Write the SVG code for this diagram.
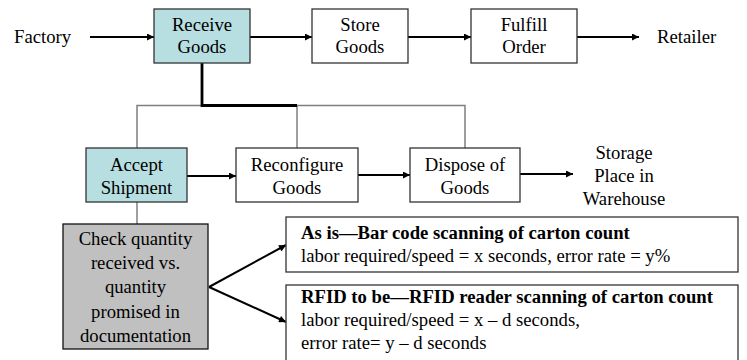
<svg xmlns="http://www.w3.org/2000/svg" width="747" height="360" viewBox="0 0 747 360">
<defs>
<marker id="ah" viewBox="0 0 10 10" refX="10" refY="5" markerWidth="9" markerHeight="7" markerUnits="userSpaceOnUse" orient="auto"><path d="M0,0 L10,5 L0,10 z" fill="#000"/></marker>
<style>
text{font-family:"Liberation Serif","Times New Roman",serif;font-size:18.7px;fill:#000}
.c{text-anchor:middle}
.b{font-weight:bold}
.box{fill:#fff;stroke:#333;stroke-width:1.3}
.teal{fill:#b7dee1;stroke:#333;stroke-width:1.3}
.grey{fill:#c0c0c0;stroke:#111;stroke-width:1.3}
.arr{stroke:#000;stroke-width:2;fill:none;marker-end:url(#ah)}
.thin{stroke:#7f7f7f;stroke-width:1.5;fill:none}
.thick{stroke:#000;stroke-width:2.8;fill:none}
</style>
</defs>
<g id="connectors">
<line class="arr" x1="90" y1="37" x2="154" y2="37"/>
<line class="arr" x1="250" y1="37" x2="312" y2="37"/>
<line class="arr" x1="408" y1="37" x2="471" y2="37"/>
<line class="arr" x1="577" y1="37" x2="639" y2="37"/>
<polyline class="thin" points="137,148 137,105.5 465,105.5 465,148"/>
<line class="thin" x1="297" y1="105.5" x2="297" y2="148"/>
<polyline class="thick" points="202,63 202,105.5 297,105.5"/>
<line class="arr" x1="187" y1="176" x2="236" y2="176"/>
<line class="arr" x1="358" y1="175" x2="410" y2="175"/>
<line class="arr" x1="520" y1="174" x2="573" y2="174"/>
<line class="thin" x1="137" y1="202" x2="137" y2="224"/>
<line class="arr" x1="209" y1="287" x2="286" y2="245"/>
<line class="arr" x1="209" y1="287" x2="286" y2="322"/>
</g>
<g id="factory"><text x="14" y="43">Factory</text></g>
<g id="receive-goods">
<rect class="teal" x="154" y="9" width="96" height="54"/>
<text class="c" x="202" y="31">Receive</text>
<text class="c" x="202" y="53">Goods</text>
</g>
<g id="store-goods">
<rect class="box" x="312" y="9" width="96" height="54"/>
<text class="c" x="360" y="31">Store</text>
<text class="c" x="360" y="53">Goods</text>
</g>
<g id="fulfill-order">
<rect class="box" x="471" y="9" width="106" height="54"/>
<text class="c" x="524" y="31">Fulfill</text>
<text class="c" x="524" y="53">Order</text>
</g>
<g id="retailer"><text x="657" y="43">Retailer</text></g>
<g id="accept-shipment">
<rect class="teal" x="86" y="148" width="101" height="54"/>
<text class="c" x="136.5" y="171">Accept</text>
<text class="c" x="136.5" y="194">Shipment</text>
</g>
<g id="reconfigure-goods">
<rect class="box" x="236" y="148" width="122" height="54"/>
<text class="c" x="297" y="171">Reconfigure</text>
<text class="c" x="297" y="194">Goods</text>
</g>
<g id="dispose-of-goods">
<rect class="box" x="410" y="148" width="110" height="54"/>
<text class="c" x="465" y="171">Dispose of</text>
<text class="c" x="465" y="194">Goods</text>
</g>
<g id="storage">
<text class="c" x="624" y="159">Storage</text>
<text class="c" x="624" y="182">Place in</text>
<text class="c" x="624" y="205">Warehouse</text>
</g>
<g id="check-quantity">
<rect class="grey" x="63" y="224" width="145" height="125"/>
<text class="c" x="135.5" y="245">Check quantity</text>
<text class="c" x="135.5" y="269">received vs.</text>
<text class="c" x="135.5" y="293">quantity</text>
<text class="c" x="135.5" y="318">promised in</text>
<text class="c" x="135.5" y="342">documentation</text>
</g>
<g id="as-is">
<rect class="box" x="286" y="217" width="452" height="55"/>
<text class="b" x="301" y="239">As is—Bar code scanning of carton count</text>
<text x="301" y="262">labor required/speed = x seconds, error rate = y%</text>
</g>
<g id="rfid">
<rect class="box" x="286" y="285" width="452" height="80"/>
<text class="b" x="301" y="303">RFID to be—RFID reader scanning of carton count</text>
<text x="301" y="326">labor required/speed = x – d seconds,</text>
<text x="301" y="349">error rate= y – d seconds</text>
</g>
</svg>
